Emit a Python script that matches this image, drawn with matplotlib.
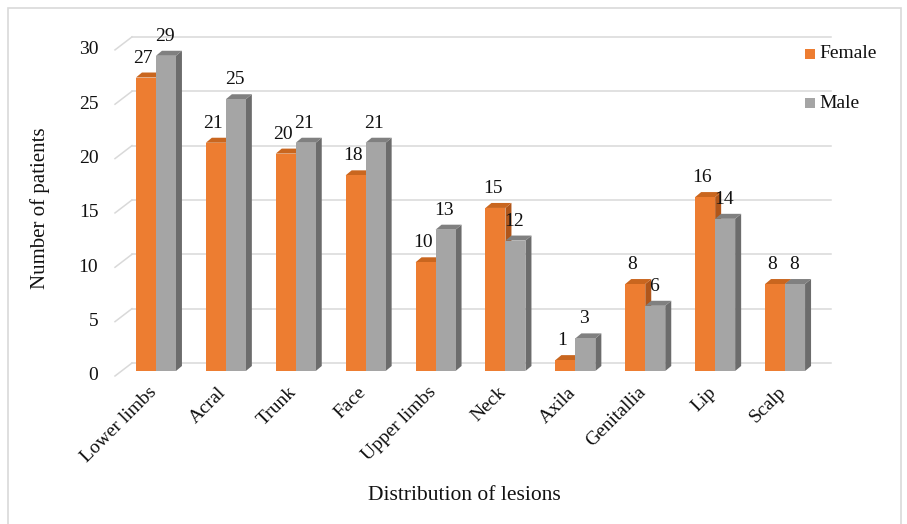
import matplotlib
matplotlib.use("Agg")
import matplotlib.pyplot as plt
from matplotlib.patches import Rectangle, Polygon

categories = ["Lower limbs", "Acral", "Trunk", "Face", "Upper limbs",
              "Neck", "Axila", "Genitallia", "Lip", "Scalp"]
female = [27, 21, 20, 18, 10, 15, 1, 8, 16, 8]
male = [29, 25, 21, 21, 13, 12, 3, 6, 14, 8]
yticks = [0, 5, 10, 15, 20, 25, 30]

plt.rcParams["font.family"] = ["Liberation Serif", "DejaVu Serif"]

W, H = 907, 524
fig = plt.figure(figsize=(W / 100, H / 100), dpi=100)

# axes box = plane of the bar fronts; pixels per unit used for the 3D offsets
px_x = 69.9
px_y = 10.87
left_px, base_px = 121.0, 371.0
ax = fig.add_axes([left_px / W, (H - base_px) / H, 10 * px_x / W, 30 * px_y / H])
ax.set_xlim(-0.5, 9.5)
ax.set_ylim(0, 30)
ax.set_axis_off()

# depth offsets (data units)
bdx, bdy = 6 / px_x, 5 / px_y          # bar depth
gdx, gdy = 11 / px_x, 8 / px_y         # back wall behind bar plane
fdx, fdy = -6 / px_x, -5 / px_y        # front edge of the floor

grid_c = "#D9D9D9"
for v in yticks:
    ax.plot([-0.5 + fdx, -0.5 + gdx], [v + fdy, v + gdy], color=grid_c, lw=1.1,
            clip_on=False, zorder=1)
    ax.plot([-0.5 + gdx, 9.5 + gdx], [v + gdy, v + gdy], color=grid_c, lw=1.1,
            clip_on=False, zorder=1)
    ax.annotate(str(v), (-0.5 + fdx, v + fdy), xytext=(-12, 0),
                textcoords="offset points", ha="right", va="center",
                fontsize=14, color="#111111", annotation_clip=False)


def bar3d(x0, w, h, front, top, side, z):
    ax.add_patch(Polygon([(x0 + w, 0), (x0 + w + bdx, bdy), (x0 + w + bdx, h + bdy),
                          (x0 + w, h)], closed=True, fc=side, ec="none",
                         clip_on=False, zorder=z))
    ax.add_patch(Polygon([(x0, h), (x0 + w, h), (x0 + w + bdx, h + bdy),
                          (x0 + bdx, h + bdy)], closed=True, fc=top, ec="none",
                         clip_on=False, zorder=z))
    ax.add_patch(Rectangle((x0, 0), w, h, fc=front, ec="none",
                           clip_on=False, zorder=z))


bw = 20 / px_x
for i, (f, m) in enumerate(zip(female, male)):
    bar3d(i - bw, bw, f, "#ED7D31", "#C9661F", "#B0561A", 3)
    bar3d(i, bw, m, "#A5A5A5", "#808080", "#6C6C6C", 4)
    ax.annotate(str(f), (i - bw / 2, f), xytext=(-2, 14), textcoords="offset points",
                ha="center", va="center", fontsize=14, color="#111111",
                annotation_clip=False, zorder=6)
    ax.annotate(str(m), (i + bw / 2, m), xytext=(-1, 14), textcoords="offset points",
                ha="center", va="center", fontsize=14, color="#111111",
                annotation_clip=False, zorder=6)
    ax.annotate(categories[i], (i, 0), xytext=(-1.5, -13.5), textcoords="offset points",
                ha="right", va="center", rotation=45, rotation_mode="anchor",
                fontsize=14, color="#111111", annotation_clip=False)

# legend
for label, color, ypx in [("Female", "#ED7D31", 54), ("Male", "#A5A5A5", 103)]:
    fig.patches.append(Rectangle((805 / W, 1 - (ypx + 5) / H), 10 / W, 10 / H,
                                 fc=color, ec="none", transform=fig.transFigure))
    fig.text(819 / W, 1 - ypx / H, label, ha="left", va="center",
             fontsize=14, color="#111111")

fig.text(40 / W, 1 - 208 / H, "Number of patients", rotation=90,
         ha="center", va="center", fontsize=15, color="#111111")
fig.text(464 / W, 1 - 495 / H, "Distribution of lesions",
         ha="center", va="center", fontsize=15.5, color="#111111")

# outer frame
fig.patches.append(Rectangle((8 / W, -0.05), (901 - 8) / W, 1.05 - 8 / H,
                             fill=False, ec="#D9D9D9", lw=1.2,
                             transform=fig.transFigure))

fig.savefig("out.png", dpi=100)
